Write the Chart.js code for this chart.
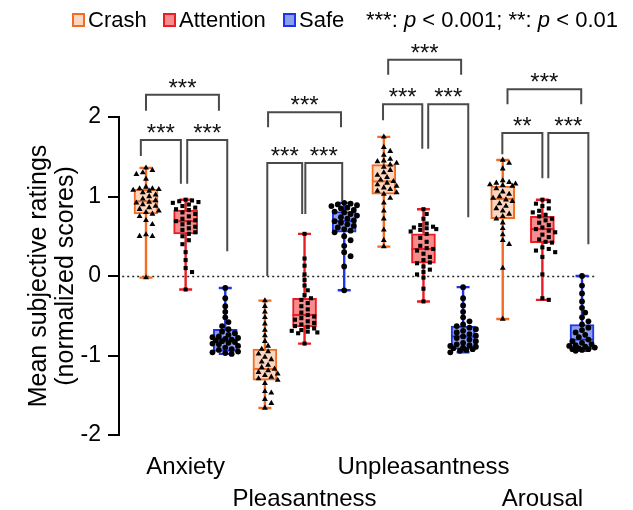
<!DOCTYPE html>
<html><head><meta charset="utf-8">
<script src="https://cdn.jsdelivr.net/npm/chart.js@4"></script>
<style>html,body{margin:0;padding:0;background:#fff;}canvas{display:block;}</style>
</head><body>
<canvas id="c" width="633" height="510"></canvas>
<script>
// ---------- data ----------
const measures = ['Anxiety', 'Pleasantness', 'Unpleasantness', 'Arousal'];
const conditions = ['Crash', 'Attention', 'Safe'];
const yTickValues = [-2, -1, 0, 1, 2];
const yTitle = ['Mean subjective ratings', '(normalized scores)'];

// box statistics, one value per measure (Anxiety, Pleasantness, Unpleasantness, Arousal)
const crashMin = [-0.02, -1.66, 0.37, -0.54];
const crashQ1  = [0.78, -1.31, 1.03, 0.72];
const crashMed = [0.94, -1.17, 1.19, 0.97];
const crashQ3  = [1.09, -0.92, 1.40, 1.13];
const crashMax = [1.36, -0.31, 1.75, 1.46];

const attnMin = [-0.17, -0.85, -0.32, -0.30];
const attnQ1  = [0.53, -0.64, 0.16, 0.42];
const attnMed = [0.69, -0.49, 0.34, 0.59];
const attnQ3  = [0.83, -0.28, 0.53, 0.75];
const attnMax = [0.96, 0.53, 0.84, 0.96];

const safeMin = [-0.98, -0.18, -0.96, -0.94];
const safeQ1  = [-0.95, 0.55, -0.92, -0.92];
const safeMed = [-0.80, 0.69, -0.76, -0.80];
const safeQ3  = [-0.67, 0.81, -0.63, -0.61];
const safeMax = [-0.15, 0.92, -0.14, 0.00];

// individual participant points
const crashAnxiety = [1.36, 1.33, 1.30, 1.28, 1.22, 1.12, 1.10, 1.10, 1.09, 1.08, 1.07, 1.05, 1.02, 1.00, 0.97, 0.95, 0.93, 0.92, 0.90, 0.88, 0.86, 0.84, 0.82, 0.80, 0.78, 0.75, 0.70, 0.65, 0.52, 0.50, 0.50, -0.02];
const attnAnxiety = [0.96, 0.95, 0.94, 0.93, 0.92, 0.90, 0.88, 0.86, 0.84, 0.83, 0.80, 0.78, 0.75, 0.72, 0.70, 0.69, 0.67, 0.65, 0.62, 0.60, 0.58, 0.55, 0.53, 0.50, 0.45, 0.40, 0.30, 0.20, 0.10, 0.05, -0.17];
const safeAnxiety = [-0.15, -0.28, -0.38, -0.45, -0.52, -0.58, -0.63, -0.67, -0.70, -0.72, -0.74, -0.76, -0.77, -0.78, -0.79, -0.80, -0.81, -0.82, -0.83, -0.84, -0.85, -0.86, -0.88, -0.90, -0.92, -0.93, -0.95, -0.96, -0.97, -0.98];

const crashPleasantness = [-0.31, -0.38, -0.45, -0.52, -0.60, -0.68, -0.75, -0.82, -0.88, -0.92, -0.95, -0.98, -1.02, -1.05, -1.08, -1.12, -1.15, -1.17, -1.19, -1.21, -1.23, -1.25, -1.27, -1.29, -1.31, -1.35, -1.45, -1.47, -1.55, -1.60, -1.66];
const attnPleasantness = [0.53, 0.22, 0.13, 0.02, -0.05, -0.12, -0.18, -0.24, -0.28, -0.30, -0.34, -0.38, -0.42, -0.46, -0.49, -0.51, -0.53, -0.55, -0.57, -0.59, -0.61, -0.63, -0.64, -0.66, -0.68, -0.69, -0.70, -0.71, -0.72, -0.85];
const safePleasantness = [0.92, 0.91, 0.90, 0.89, 0.88, 0.86, 0.85, 0.83, 0.81, 0.80, 0.78, 0.76, 0.74, 0.72, 0.70, 0.69, 0.67, 0.65, 0.63, 0.61, 0.59, 0.57, 0.55, 0.50, 0.45, 0.38, 0.30, 0.25, 0.12, -0.18];

const crashUnpleasantness = [1.75, 1.62, 1.57, 1.52, 1.47, 1.45, 1.44, 1.42, 1.40, 1.37, 1.33, 1.30, 1.27, 1.24, 1.21, 1.19, 1.17, 1.15, 1.13, 1.11, 1.09, 1.07, 1.05, 1.03, 0.98, 0.92, 0.82, 0.72, 0.58, 0.45, 0.37];
const attnUnpleasantness = [0.84, 0.78, 0.72, 0.66, 0.64, 0.62, 0.61, 0.60, 0.59, 0.58, 0.56, 0.53, 0.48, 0.43, 0.38, 0.35, 0.34, 0.32, 0.28, 0.24, 0.20, 0.17, 0.16, 0.12, 0.08, 0.05, 0.02, -0.02, -0.16, -0.32];
const safeUnpleasantness = [-0.14, -0.28, -0.37, -0.45, -0.52, -0.57, -0.61, -0.63, -0.65, -0.67, -0.69, -0.71, -0.73, -0.75, -0.76, -0.78, -0.80, -0.82, -0.84, -0.86, -0.87, -0.88, -0.89, -0.90, -0.91, -0.92, -0.93, -0.94, -0.96];

const crashArousal = [1.46, 1.42, 1.35, 1.20, 1.18, 1.17, 1.16, 1.15, 1.14, 1.13, 1.10, 1.06, 1.03, 1.00, 0.98, 0.96, 0.94, 0.91, 0.88, 0.85, 0.82, 0.78, 0.75, 0.72, 0.67, 0.60, 0.52, 0.45, 0.40, 0.10, -0.54];
const attnArousal = [0.96, 0.94, 0.91, 0.88, 0.85, 0.82, 0.80, 0.77, 0.75, 0.72, 0.70, 0.67, 0.64, 0.61, 0.59, 0.57, 0.55, 0.52, 0.49, 0.46, 0.43, 0.42, 0.36, 0.34, 0.32, 0.30, 0.24, 0.02, -0.28, -0.30];
const safeArousal = [0.00, -0.12, -0.22, -0.32, -0.40, -0.46, -0.52, -0.57, -0.61, -0.65, -0.68, -0.71, -0.74, -0.77, -0.80, -0.82, -0.84, -0.86, -0.87, -0.88, -0.89, -0.90, -0.91, -0.92, -0.92, -0.93, -0.94];

// significance brackets (x in box slots 0..11, y in rating units)
const bracketFrom   = [-0.13, 1.04, 0.00, 3.06, 4.02, 3.08, 5.98, 7.12, 6.11, 8.99, 10.15, 9.12];
const bracketTo     = [0.88, 2.05, 1.84, 3.94, 4.95, 4.92, 6.97, 8.13, 7.95, 10.00, 11.16, 10.98];
const bracketTop    = [1.71, 1.71, 2.28, 1.42, 1.42, 2.06, 2.16, 2.16, 2.72, 1.80, 1.80, 2.35];
const bracketLeftEnd  = [1.51, 1.16, 2.08, 0.00, 0.78, 1.87, 1.96, 1.60, 2.53, 1.53, 1.23, 2.16];
const bracketRightEnd = [1.16, 0.31, 2.08, 0.78, 0.94, 1.87, 1.60, 0.74, 2.53, 1.23, 0.40, 2.16];
const bracketText   = ['***', '***', '***', '***', '***', '***', '***', '***', '***', '**', '***', '***'];

// ---------- styling ----------
const FONT = '"Liberation Sans", Arial, Helvetica, sans-serif';
const fillColors   = ['rgb(252,214,190)', 'rgb(246,140,140)', 'rgb(138,158,240)'];
const borderColors = ['rgb(242,108,36)', 'rgb(236,28,36)', 'rgb(30,52,232)'];
const pointStyles  = ['triangle', 'rect', 'circle'];
const pointRadii   = [3.4, 2.9, 2.9];

const stats = [
  [crashMin, crashQ1, crashMed, crashQ3, crashMax],
  [attnMin, attnQ1, attnMed, attnQ3, attnMax],
  [safeMin, safeQ1, safeMed, safeQ3, safeMax]
];
const points = [
  [crashAnxiety, crashPleasantness, crashUnpleasantness, crashArousal],
  [attnAnxiety, attnPleasantness, attnUnpleasantness, attnArousal],
  [safeAnxiety, safePleasantness, safeUnpleasantness, safeArousal]
];
const slot = (m, c) => m * 3 + c;

// beeswarm layout, kept within roughly the box width
function swarm(vals, pos) {
  const pxPerUnitY = 79.5, pxPerUnitX = 39.64, D = 5.2, STEP = 3.2, MAXOFF = 12.8;
  const placed = [], out = [];
  const sorted = vals.slice().sort((a, b) => b - a);
  const cands = [0];
  for (let k = 1; k * STEP <= MAXOFF; k++) cands.push(k * STEP, -k * STEP);
  for (const v of sorted) {
    const yp = v * pxPerUnitY;
    let best = 0, bestScore = Infinity;
    for (const off of cands) {
      let worst = 0;
      for (const p of placed) {
        const d2 = (p[0] - off) ** 2 + (p[1] - yp) ** 2;
        if (d2 < D * D) worst = Math.max(worst, D * D - d2);
      }
      if (worst === 0) { best = off; bestScore = 0; break; }
      if (worst < bestScore) { bestScore = worst; best = off; }
    }
    placed.push([best, yp]);
    out.push({ x: pos + best / pxPerUnitX, y: v });
  }
  return out;
}

// box bars
const boxData = [], boxFill = [], boxBorder = [];
for (let m = 0; m < measures.length; m++) {
  for (let c = 0; c < conditions.length; c++) {
    boxData.push({ x: slot(m, c), y: [stats[c][1][m], stats[c][3][m]] });
    boxFill.push(fillColors[c]);
    boxBorder.push(borderColors[c]);
  }
}
const datasets = [{
  type: 'bar', label: 'boxes', data: boxData,
  backgroundColor: boxFill, borderColor: boxBorder, borderWidth: 2,
  borderSkipped: false, barThickness: 24, order: 10
}];
conditions.forEach((name, c) => {
  let d = [];
  for (let m = 0; m < measures.length; m++) d = d.concat(swarm(points[c][m], slot(m, c)));
  datasets.push({
    type: 'scatter', label: name, data: d,
    pointStyle: pointStyles[c], pointRadius: pointRadii[c],
    backgroundColor: '#000', borderColor: '#000', borderWidth: 0, order: 1
  });
});

const extras = {
  id: 'extras',
  beforeDatasetsDraw(chart) {
    const { ctx, scales: { x, y } } = chart;
    ctx.save();
    ctx.setLineDash([2, 3]);
    ctx.strokeStyle = '#222';
    ctx.lineWidth = 1.6;
    const py = Math.round(y.getPixelForValue(0)) + 0.5;
    ctx.beginPath();
    ctx.moveTo(x.getPixelForValue(-0.6), py);
    ctx.lineTo(x.getPixelForValue(11.35), py);
    ctx.stroke();
    ctx.restore();
  },
  afterDatasetDraw(chart, args) {
    if (args.index !== 0) return;
    const { ctx, scales: { x, y } } = chart;
    ctx.save();
    for (let m = 0; m < measures.length; m++) {
      for (let c = 0; c < conditions.length; c++) {
        const [mn, q1, md, q3, mx] = stats[c].map(a => a[m]);
        const px = x.getPixelForValue(slot(m, c));
        ctx.strokeStyle = borderColors[c];
        ctx.lineWidth = 2.4;
        ctx.beginPath();
        ctx.moveTo(px, y.getPixelForValue(mx)); ctx.lineTo(px, y.getPixelForValue(q3));
        ctx.moveTo(px, y.getPixelForValue(q1)); ctx.lineTo(px, y.getPixelForValue(mn));
        ctx.moveTo(px - 6.5, y.getPixelForValue(mx)); ctx.lineTo(px + 6.5, y.getPixelForValue(mx));
        ctx.moveTo(px - 6.5, y.getPixelForValue(mn)); ctx.lineTo(px + 6.5, y.getPixelForValue(mn));
        ctx.stroke();
        ctx.lineWidth = 2;
        ctx.beginPath();
        ctx.moveTo(px - 12, y.getPixelForValue(md)); ctx.lineTo(px + 12, y.getPixelForValue(md));
        ctx.stroke();
      }
    }
    ctx.restore();
  },
  afterDraw(chart) {
    const { ctx, scales: { x, y } } = chart;
    ctx.save();
    // brackets
    ctx.strokeStyle = '#4a4a4a';
    ctx.lineWidth = 2;
    ctx.fillStyle = '#111';
    ctx.font = '24px ' + FONT;
    ctx.textAlign = 'center';
    ctx.textBaseline = 'alphabetic';
    for (let i = 0; i < bracketText.length; i++) {
      const x1 = x.getPixelForValue(bracketFrom[i]), x2 = x.getPixelForValue(bracketTo[i]);
      const yt = y.getPixelForValue(bracketTop[i]);
      ctx.beginPath();
      ctx.moveTo(x1, y.getPixelForValue(bracketLeftEnd[i]));
      ctx.lineTo(x1, yt); ctx.lineTo(x2, yt);
      ctx.lineTo(x2, y.getPixelForValue(bracketRightEnd[i]));
      ctx.stroke();
      ctx.fillText(bracketText[i], (x1 + x2) / 2, yt + 1);
    }
    // legend
    ctx.textAlign = 'left';
    ctx.textBaseline = 'middle';
    const legendX = [72, 163, 283];
    const legendY = 20;
    conditions.forEach((name, c) => {
      ctx.fillStyle = fillColors[c];
      ctx.fillRect(legendX[c], legendY - 7, 13, 14);
      ctx.strokeStyle = borderColors[c];
      ctx.lineWidth = 2;
      ctx.strokeRect(legendX[c] + 1, legendY - 6, 11, 12);
      ctx.fillStyle = '#000';
      ctx.font = '22px ' + FONT;
      ctx.fillText(name, legendX[c] + 16, legendY + 1);
    });
    const parts = [['***: ', false], ['p', true], [' < 0.001; **: ', false], ['p', true], [' < 0.01', false]];
    let tx = 366;
    for (const [t, it] of parts) {
      ctx.font = (it ? 'italic ' : '') + '22px ' + FONT;
      ctx.fillText(t, tx, legendY + 1);
      tx += ctx.measureText(t).width;
    }
    ctx.restore();
  }
};

new Chart(document.getElementById('c'), {
  type: 'scatter',
  data: { datasets },
  options: {
    responsive: false,
    animation: false,
    devicePixelRatio: 1,
    layout: { padding: { top: 117, right: 23, bottom: 0, left: 0 } },
    plugins: { legend: { display: false }, tooltip: { enabled: false } },
    scales: {
      x: {
        type: 'linear', min: -0.681, max: 11.706, offset: false,
        grid: { display: false, drawTicks: false },
        border: { display: false },
        afterBuildTicks: s => { s.ticks = [1, 4, 7, 10].map(v => ({ value: v })); },
        afterFit: s => { s.height = 75; },
        ticks: {
          autoSkip: false, maxRotation: 0, padding: 16,
          color: '#000',
          font: { family: FONT, size: 24, lineHeight: '32px' },
          callback: (v, i) => (i % 2 === 0 ? [measures[i], ''] : ['', measures[i]])
        }
      },
      y: {
        type: 'linear', min: -2, max: 2,
        afterBuildTicks: s => { s.ticks = yTickValues.map(v => ({ value: v })); },
        afterFit: s => { s.width = 119; },
        grid: { drawOnChartArea: false, drawTicks: true, tickLength: 11, color: '#000', lineWidth: 2 },
        border: { display: true, color: '#000', width: 2 },
        ticks: { color: '#000', padding: 7, font: { family: FONT, size: 23 } },
        title: {
          display: true, text: yTitle, color: '#000',
          font: { family: FONT, size: 25, lineHeight: '27px' },
          padding: { top: 26, bottom: 0 }
        }
      }
    }
  },
  plugins: [extras]
});
</script>
</body></html>
